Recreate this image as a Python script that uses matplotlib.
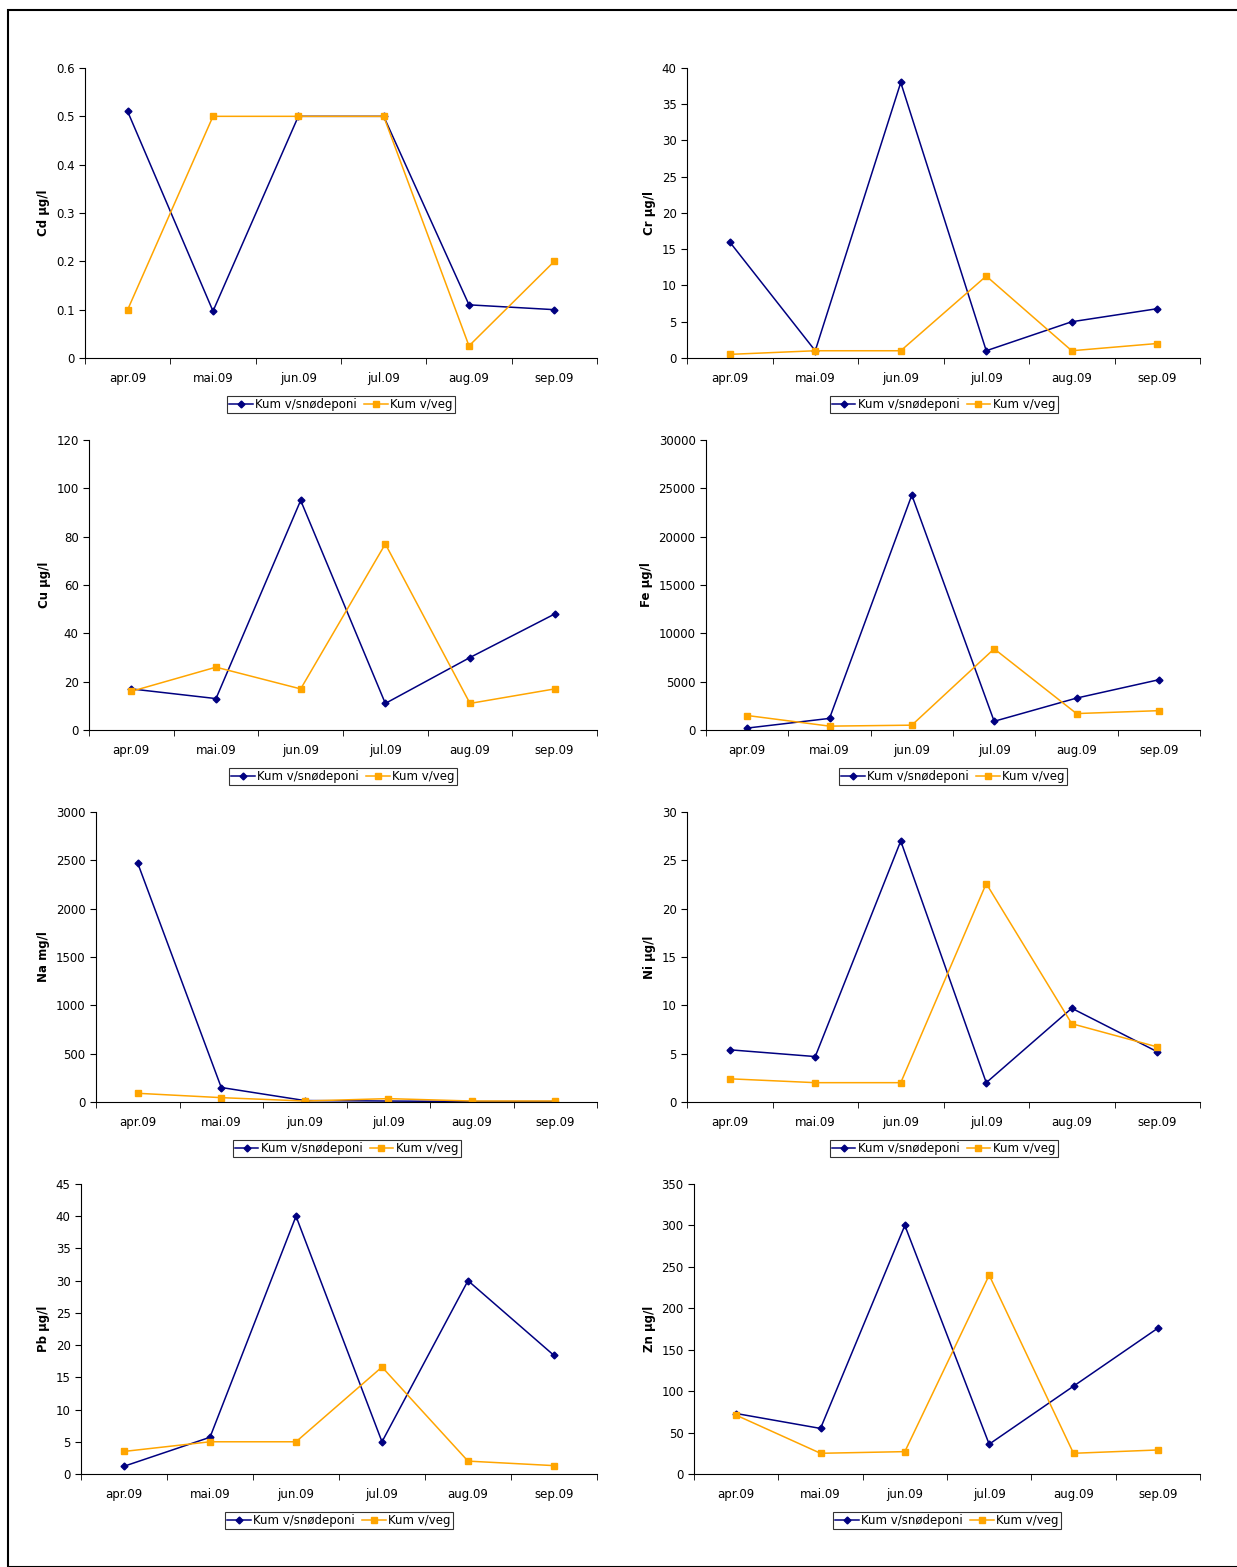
import matplotlib
matplotlib.use("Agg")
import matplotlib.pyplot as plt
from matplotlib.patches import Rectangle

months = ["apr.09", "mai.09", "jun.09", "jul.09", "aug.09", "sep.09"]
series_names = ["Kum v/snødeponi", "Kum v/veg"]

cd_sno = [0.51, 0.097, 0.5, 0.5, 0.11, 0.1]
cd_veg = [0.1, 0.5, 0.5, 0.5, 0.025, 0.2]
cr_sno = [16, 1, 38, 1, 5, 6.8]
cr_veg = [0.5, 1, 1, 11.3, 1, 2]
cu_sno = [17, 13, 95, 11, 30, 48]
cu_veg = [16, 26, 17, 77, 11, 17]
fe_sno = [200, 1200, 24300, 900, 3300, 5200]
fe_veg = [1500, 400, 500, 8400, 1700, 2000]
na_sno = [2470, 150, 15, 10, 5, 5]
na_veg = [90, 45, 10, 35, 10, 10]
ni_sno = [5.4, 4.7, 27, 2, 9.7, 5.2]
ni_veg = [2.4, 2, 2, 22.6, 8.1, 5.7]
pb_sno = [1.2, 5.7, 40, 5, 30, 18.4]
pb_veg = [3.5, 5, 5, 16.6, 2, 1.3]
zn_sno = [73, 55, 300, 36, 106, 176]
zn_veg = [71, 25, 27, 240, 25, 29]

panels = [
    ("Cd µg/l", cd_sno, cd_veg, 0.6, 0.1, 85),
    ("Cr µg/l", cr_sno, cr_veg, 40, 5, 687),
    ("Cu µg/l", cu_sno, cu_veg, 120, 20, 89),
    ("Fe µg/l", fe_sno, fe_veg, 30000, 5000, 706),
    ("Na mg/l", na_sno, na_veg, 3000, 500, 96),
    ("Ni µg/l", ni_sno, ni_veg, 30, 5, 687),
    ("Pb µg/l", pb_sno, pb_veg, 45, 5, 81),
    ("Zn µg/l", zn_sno, zn_veg, 350, 50, 694),
]
tops = [68, 440, 812, 1184]
W, H = 1237, 1567
fig = plt.figure(figsize=(W/100, H/100), dpi=100)
fig.patches.append(Rectangle((8/W, 0), 1.2, 1 - 10/H, transform=fig.transFigure,
                             fill=False, edgecolor="black", linewidth=1.5))
x = list(range(6))
def fmt(t):
    return "0" if t == 0 else ("{:.1f}".format(t) if t < 1 else "{:.0f}".format(t))
for i, (lab, s, v, ymax, step, left) in enumerate(panels):
    row, col = divmod(i, 2)
    right = 597 if col == 0 else 1200
    top = tops[row]; bot = top + 290
    ax = fig.add_axes([left/W, 1 - bot/H, (right-left)/W, 290/H])
    l1, = ax.plot(x, s, color="#000080", marker="D", markersize=3.5, linewidth=1.1)
    l2, = ax.plot(x, v, color="#FFA500", marker="s", markersize=4.5, linewidth=1.1)
    ax.set_xlim(-0.5, 5.5)
    ax.set_ylim(0, ymax)
    n = int(round(ymax/step))
    ticks = [k*step for k in range(n+1)]
    ax.set_yticks(ticks)
    ax.set_yticklabels([fmt(t) for t in ticks], fontsize=8.5)
    ax.set_xticks(x)
    ax.set_xticklabels(months, fontsize=8.5)
    ax.set_xticks([k - 0.5 for k in range(7)], minor=True)
    ax.tick_params(axis="x", which="major", length=0, pad=10)
    ax.tick_params(axis="x", which="minor", length=4, direction="out")
    ax.tick_params(axis="y", length=4, direction="out")
    for sp in ["top", "right"]:
        ax.spines[sp].set_visible(False)
    ax.set_ylabel(lab, fontsize=8.5, fontweight="bold")
    leg = ax.legend([l1, l2], series_names, loc="upper center", bbox_to_anchor=(0.5, -0.13),
                    ncol=2, fontsize=8.5, frameon=True, fancybox=False, borderpad=0.2,
                    handlelength=2, columnspacing=0.6, handletextpad=0.2, borderaxespad=0)
    leg.get_frame().set_edgecolor("black")
    leg.get_frame().set_linewidth(0.8)
fig.savefig("out.png", dpi=100)
